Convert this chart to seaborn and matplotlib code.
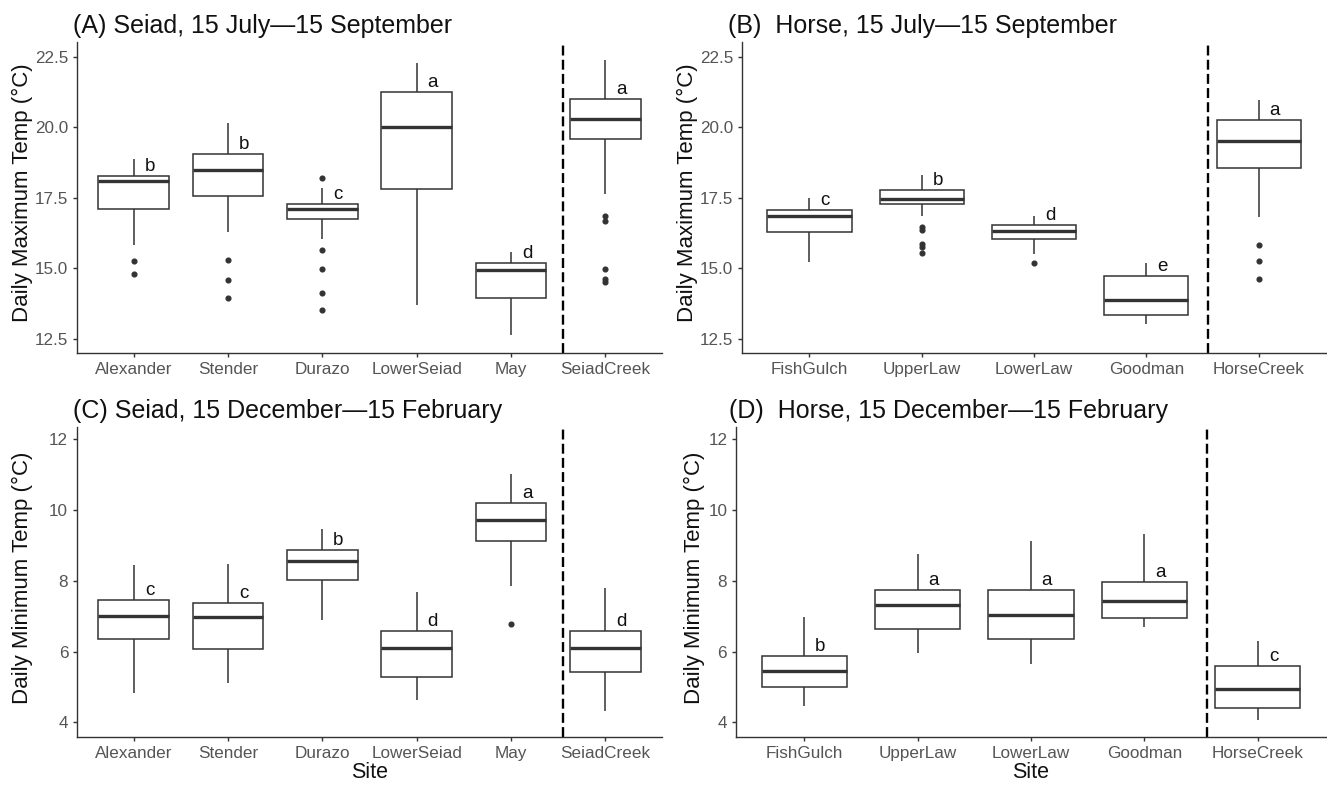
import matplotlib
matplotlib.use("Agg")
import matplotlib.pyplot as plt
import pandas as pd
import seaborn as sns

# Sites along the x axis
seiad_sites = ["Alexander", "Stender", "Durazo", "LowerSeiad", "May", "SeiadCreek"]
horse_sites = ["FishGulch", "UpperLaw", "LowerLaw", "Goodman", "HorseCreek"]

# Box summaries: (lower whisker, Q1, median, Q3, upper whisker)
seiad_summer_box = [(15.84, 17.10, 18.08, 18.28, 18.87),
                    (16.27, 17.57, 18.49, 19.06, 20.14),
                    (16.04, 16.76, 17.12, 17.28, 17.84),
                    (13.69, 17.81, 20.02, 21.24, 22.28),
                    (12.64, 13.95, 14.93, 15.19, 15.58),
                    (17.64, 19.58, 20.29, 20.99, 22.38)]
seiad_summer_out = [[15.27, 14.79], [15.30, 14.59, 13.95],
                    [18.20, 15.64, 14.96, 14.13, 13.52], [], [],
                    [16.84, 16.66, 14.98, 14.63, 14.50]]
seiad_summer_letters = ["b", "b", "c", "a", "d", "a"]

horse_summer_box = [(15.21, 16.28, 16.85, 17.07, 17.50),
                    (16.87, 17.29, 17.46, 17.78, 18.32),
                    (15.51, 16.03, 16.31, 16.55, 16.87),
                    (13.01, 13.35, 13.89, 14.73, 15.19),
                    (16.81, 18.54, 19.52, 20.27, 20.98)]
horse_summer_out = [[], [16.48, 16.36, 15.86, 15.74, 15.56], [15.18], [],
                    [15.83, 15.27, 14.61]]
horse_summer_letters = ["c", "b", "d", "e", "a"]

seiad_winter_box = [(4.82, 6.35, 7.01, 7.45, 8.46),
                    (5.12, 6.09, 6.97, 7.38, 8.49),
                    (6.89, 8.02, 8.57, 8.88, 9.48),
                    (4.63, 5.29, 6.11, 6.59, 7.69),
                    (7.86, 9.12, 9.71, 10.21, 11.03),
                    (4.32, 5.43, 6.11, 6.59, 7.80)]
seiad_winter_out = [[], [], [], [], [6.78], []]
seiad_winter_letters = ["c", "c", "b", "d", "a", "d"]

horse_winter_box = [(4.48, 5.00, 5.46, 5.87, 6.99),
                    (5.96, 6.64, 7.31, 7.73, 8.76),
                    (5.66, 6.37, 7.03, 7.73, 9.14),
                    (6.69, 6.94, 7.43, 7.97, 9.33),
                    (4.07, 4.42, 4.94, 5.60, 6.29)]
horse_winter_out = [[], [], [], [], []]
horse_winter_letters = ["b", "a", "a", "a", "c"]

LINE = "#333333"
TICK = "#555555"


def box_sample(stats, outliers):
    # small sample whose quartiles / whiskers / fliers reproduce the summary
    lo, q1, med, q3, hi = stats
    low = sorted(o for o in outliers if o < q1) + [lo]
    high = [hi] + sorted(o for o in outliers if o > q3)
    m = max(len(low), len(high))
    return (low + [q1] * (m - len(low) + 1) + [med] * m
            + [q3] * (2 * m - len(high)) + high)


def draw_panel(ax, sites, boxes, outliers, letters, ylim, yticks, fmt,
               vline, ylabel, xlabel, label_x):
    rows = [(s, v) for s, b, o in zip(sites, boxes, outliers)
            for v in box_sample(b, o)]
    df = pd.DataFrame(rows, columns=["Site", "Temp"])
    sns.boxplot(data=df, x="Site", y="Temp", order=sites, ax=ax,
                width=0.75, color="white", linecolor=LINE, linewidth=1.1,
                showcaps=False,
                flierprops=dict(marker="o", markersize=3.4,
                                markerfacecolor=LINE, markeredgecolor=LINE),
                medianprops=dict(linewidth=2.4, color=LINE))
    for i, (b, letter) in enumerate(zip(boxes, letters)):
        ax.annotate(letter, xy=(i, b[3]), xytext=(16, 5),
                    textcoords="offset pixels", ha="center", va="baseline",
                    fontsize=13.5, color="#111111")
    ax.axvline(vline, color="black", lw=1.7, ls=(0, (4.2, 1.8)))
    ax.set_xlim(-0.6, len(sites) - 0.4)
    ax.set_ylim(*ylim)
    ax.set_yticks(yticks)
    ax.set_yticklabels([fmt.format(t) for t in yticks])
    ax.set_ylabel(ylabel, fontsize=16, color="#111111")
    ax.yaxis.set_label_coords(label_x, 0.515)
    ax.set_xlabel(xlabel, fontsize=15.5, color="#111111")
    ax.xaxis.set_label_coords(0.5, -0.08)
    sns.despine(ax=ax)
    for sp in ("left", "bottom"):
        ax.spines[sp].set_color(LINE)
        ax.spines[sp].set_linewidth(1.0)
    ax.tick_params(axis="both", colors=LINE, labelcolor=TICK, labelsize=12.3,
                   length=2.8, width=1.0)


sns.set_theme(style="ticks")
plt.rcParams["font.family"] = ["Liberation Sans", "DejaVu Sans"]

W, H = 1327, 785
fig = plt.figure(figsize=(W / 100, H / 100), dpi=100)


def add_axes(left, right, top, bottom):
    return fig.add_axes([left / W, 1 - bottom / H, (right - left) / W,
                         (bottom - top) / H])


axA = add_axes(77, 662, 42, 353)
axB = add_axes(742, 1326, 42, 353)
axC = add_axes(77, 662, 427, 737)
axD = add_axes(736, 1326, 427, 737)

max_label = "Daily Maximum Temp (\u00b0C)"
min_label = "Daily Minimum Temp (\u00b0C)"

draw_panel(axA, seiad_sites, seiad_summer_box, seiad_summer_out,
           seiad_summer_letters, (12.0, 23.02), [12.5, 15.0, 17.5, 20.0, 22.5],
           "{:.1f}", 4.55, max_label, "", -0.075)
draw_panel(axB, horse_sites, horse_summer_box, horse_summer_out,
           horse_summer_letters, (12.0, 23.02), [12.5, 15.0, 17.5, 20.0, 22.5],
           "{:.1f}", 3.55, max_label, "", -0.075)
draw_panel(axC, seiad_sites, seiad_winter_box, seiad_winter_out,
           seiad_winter_letters, (3.59, 12.35), [4, 6, 8, 10, 12],
           "{:.0f}", 4.55, min_label, "Site", -0.075)
draw_panel(axD, horse_sites, horse_winter_box, horse_winter_out,
           horse_winter_letters, (3.59, 12.35), [4, 6, 8, 10, 12],
           "{:.0f}", 3.55, min_label, "Site", -0.052)

titles = [("(A) Seiad, 15 July\u201415 September", 73, 33),
          ("(B)  Horse, 15 July\u201415 September", 728, 33),
          ("(C) Seiad, 15 December\u201415 February", 73, 418),
          ("(D)  Horse, 15 December\u201415 February", 729, 418)]
for text, x, y in titles:
    fig.text(x / W, 1 - y / H, text, fontsize=18, color="#111111",
             ha="left", va="baseline")

fig.savefig("out.png", dpi=100, facecolor="white")
